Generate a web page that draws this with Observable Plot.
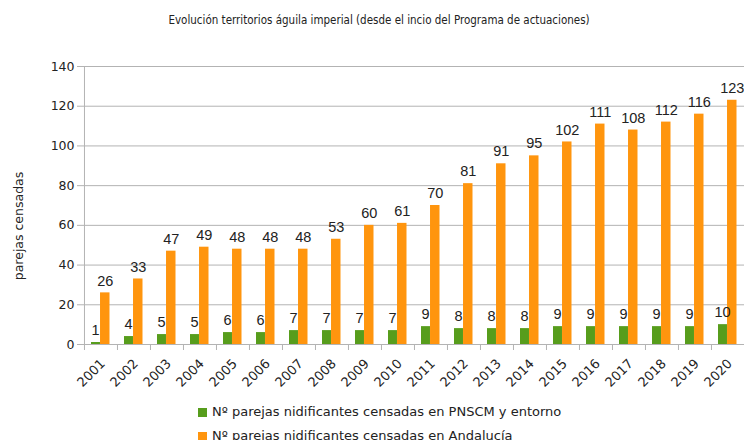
<!DOCTYPE html>
<html>
<head>
<meta charset="utf-8">
<script src="https://cdn.jsdelivr.net/npm/d3@7"></script>
<script src="https://cdn.jsdelivr.net/npm/@observablehq/plot@0.6"></script>
<style>
  html, body { margin: 0; padding: 0; background: #fff; }
  body { width: 744px; height: 440px; overflow: hidden; font-family: "DejaVu Sans", sans-serif; position: relative; }
  #title { height: 40px; line-height: 40px; text-align: center; font-family: "DejaVu Sans Condensed", "Liberation Sans Narrow", sans-serif; font-size: 11.5px; color: #222; padding-left: 14px; box-sizing: border-box; }
  #ylabel { position: absolute; left: 18px; top: 226px; transform: translate(-50%, -50%) rotate(-90deg); white-space: nowrap; font-size: 12.5px; color: #222; }
  #legend { position: absolute; left: 198px; top: 400px; font-size: 13px; color: #222; }
  .item { height: 24px; line-height: 20px; display: flex; align-items: center; }
  .sw { width: 9px; height: 9px; margin-right: 5px; display: inline-block; }
</style>
</head>
<body>
<div id="title">Evolución territorios águila imperial (desde el incio del Programa de actuaciones)</div>
<div id="chart"></div>
<div id="ylabel">parejas censadas</div>
<div id="legend"></div>
<script>
const years = ["2001","2002","2003","2004","2005","2006","2007","2008","2009","2010","2011","2012","2013","2014","2015","2016","2017","2018","2019","2020"];
const pnscm = [1,4,5,5,6,6,7,7,7,7,9,8,8,8,9,9,9,9,9,10];
const andalucia = [26,33,47,49,48,48,48,53,60,61,70,81,91,95,102,111,108,112,116,123];
const seriesNames = ["Nº parejas nidificantes censadas en PNSCM y entorno", "Nº parejas nidificantes censadas en Andalucía"];
const colors = ["#579d1c", "#ff950e"];

const green = years.map((y, i) => ({year: y, value: pnscm[i]}));
const orange = years.map((y, i) => ({year: y, value: andalucia[i]}));

const W = 744, ML = 83, MR = 0;
const bw = (W - ML - MR) / years.length;
const half = bw / 2;

const chart = Plot.plot({
  width: W,
  height: 360,
  marginLeft: ML,
  marginRight: MR,
  marginTop: 26,
  marginBottom: 56,
  style: {fontFamily: "DejaVu Sans, sans-serif", color: "#222", background: "#fff"},
  x: {domain: years, padding: 0, axis: null},
  y: {domain: [0, 140], axis: null},
  marks: [
    Plot.gridY({ticks: 7, stroke: "#b3b3b3", strokeOpacity: 1}),
    Plot.ruleY([0], {stroke: "#b3b3b3"}),
    Plot.ruleX([years[0]], {y1: 0, y2: 140, dx: -half, stroke: "#b3b3b3"}),
    Plot.axisY({ticks: 7, tickSize: 6, stroke: "#b3b3b3", fontSize: 12.5, tickPadding: 3, label: null}),
    Plot.axisX({tickSize: 6, text: null, dx: -half, stroke: "#b3b3b3", label: null}),
    Plot.axisX({tickSize: 0, tickRotate: -45, tickPadding: 17, dx: 2, fontSize: 13, label: null}),
    Plot.barY(green, {x: "year", y: "value", fill: colors[0], insetLeft: 7, insetRight: half + 0.5}),
    Plot.barY(orange, {x: "year", y: "value", fill: colors[1], insetLeft: half - 0.5, insetRight: 7.5}),
    Plot.text(green, {x: "year", y: "value", text: d => String(d.value), dx: -(half - 7 + 0.5) / 2 - 0.5, dy: -12, fontSize: 14.5, fontFamily: "Liberation Sans, Arial, sans-serif", fill: "#222"}),
    Plot.text(orange, {x: "year", y: "value", text: d => String(d.value), dx: (half - 7.5 - 0.5) / 2, dy: -12, fontSize: 14.5, fontFamily: "Liberation Sans, Arial, sans-serif", fill: "#222"})
  ]
});
document.getElementById("chart").appendChild(chart);

const legend = document.getElementById("legend");
seriesNames.forEach((name, i) => {
  const it = document.createElement("div");
  it.className = "item";
  const sw = document.createElement("span");
  sw.className = "sw";
  sw.style.background = colors[i];
  it.appendChild(sw);
  it.appendChild(document.createTextNode(name));
  legend.appendChild(it);
});
</script>
</body>
</html>
